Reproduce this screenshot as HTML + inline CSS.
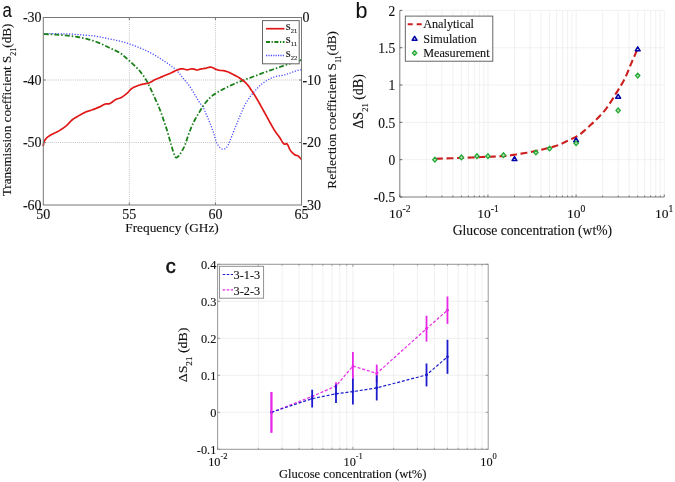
<!DOCTYPE html>
<html><head><meta charset="utf-8"><title>figure</title>
<style>html,body{margin:0;padding:0;background:#fff;overflow:hidden}svg{display:block;filter:blur(0.45px)}</style>
</head><body>
<svg width="675" height="482" viewBox="0 0 675 482">
<rect width="675" height="482" fill="#fff"/>
<line x1="129.37" y1="17.5" x2="129.37" y2="205.0" stroke="#c4c4c4" stroke-width="1" stroke-dasharray="1 1.1"/>
<line x1="215.43" y1="17.5" x2="215.43" y2="205.0" stroke="#c4c4c4" stroke-width="1" stroke-dasharray="1 1.1"/>
<line x1="43.3" y1="80" x2="301.5" y2="80" stroke="#c4c4c4" stroke-width="1" stroke-dasharray="1 1.1"/>
<line x1="43.3" y1="142.5" x2="301.5" y2="142.5" stroke="#c4c4c4" stroke-width="1" stroke-dasharray="1 1.1"/>
<polyline points="43.8,33.6 45.47,33.62 47.81,33.65 50.56,33.68 53.49,33.72 56.35,33.76 58.9,33.8 61.14,33.84 63.29,33.87 65.36,33.9 67.39,33.94 69.43,34.01 71.5,34.1 73.6,34.22 75.7,34.37 77.8,34.54 79.9,34.73 82,34.91 84.1,35.1 86.2,35.27 88.3,35.43 90.4,35.6 92.5,35.79 94.6,36.02 96.7,36.3 98.82,36.66 100.97,37.07 103.12,37.53 105.24,38 107.31,38.47 109.3,38.9 111.21,39.3 113.06,39.67 114.86,40.04 116.61,40.41 118.32,40.8 120,41.2 121.63,41.62 123.2,42.04 124.73,42.48 126.24,42.93 127.76,43.4 129.3,43.9 130.86,44.43 132.41,44.97 133.96,45.54 135.53,46.14 137.1,46.76 138.7,47.4 140.33,48.08 142.01,48.78 143.69,49.51 145.37,50.26 147.01,51.03 148.6,51.8 150.12,52.58 151.59,53.37 153.02,54.17 154.44,55 155.86,55.84 157.3,56.7 158.78,57.61 160.29,58.56 161.81,59.53 163.29,60.5 164.69,61.43 166,62.3 167.19,63.1 168.3,63.86 169.33,64.58 170.31,65.29 171.27,65.99 172.2,66.7 173.09,67.39 173.91,68.02 174.7,68.66 175.49,69.33 176.31,70.1 177.2,71 178.17,72.06 179.19,73.26 180.24,74.55 181.3,75.88 182.36,77.21 183.4,78.5 184.41,79.73 185.42,80.94 186.43,82.14 187.42,83.37 188.41,84.65 189.4,86 190.4,87.46 191.4,89.01 192.41,90.62 193.39,92.22 194.32,93.76 195.2,95.2 196.01,96.54 196.77,97.83 197.48,99.06 198.17,100.23 198.84,101.34 199.5,102.4 200.15,103.34 200.78,104.15 201.39,104.9 202,105.66 202.6,106.51 203.2,107.5 203.81,108.66 204.41,109.93 205.01,111.28 205.6,112.67 206.2,114.09 206.8,115.5 207.4,116.89 208,118.29 208.59,119.71 209.19,121.16 209.79,122.66 210.4,124.2 211.03,125.84 211.68,127.59 212.34,129.37 212.97,131.14 213.57,132.83 214.1,134.4 214.55,135.85 214.92,137.23 215.25,138.54 215.57,139.77 215.91,140.93 216.3,142 216.73,142.99 217.19,143.9 217.66,144.72 218.16,145.48 218.67,146.17 219.2,146.8 219.76,147.39 220.35,147.93 220.96,148.41 221.57,148.79 222.19,149.07 222.8,149.2 223.41,149.19 224.03,149.06 224.64,148.82 225.25,148.47 225.84,148.03 226.4,147.5 226.91,146.9 227.39,146.21 227.84,145.43 228.3,144.54 228.78,143.54 229.3,142.4 229.87,141.08 230.48,139.56 231.11,137.93 231.74,136.25 232.38,134.58 233,133 233.61,131.5 234.21,130.02 234.81,128.56 235.4,127.1 236,125.65 236.6,124.2 237.18,122.78 237.74,121.4 238.3,120.02 238.88,118.6 239.51,117.11 240.2,115.5 240.94,113.74 241.71,111.87 242.52,109.91 243.4,107.92 244.35,105.94 245.4,104 246.55,102.09 247.79,100.16 249.11,98.24 250.5,96.35 251.93,94.49 253.4,92.7 254.92,90.93 256.49,89.18 258.12,87.46 259.79,85.82 261.48,84.29 263.2,82.9 264.95,81.65 266.75,80.51 268.58,79.48 270.43,78.55 272.27,77.72 274.1,77 275.92,76.44 277.73,76.06 279.55,75.78 281.37,75.52 283.18,75.22 285,74.8 286.88,74.22 288.83,73.52 290.78,72.78 292.66,72.06 294.39,71.41 295.9,70.9 297.2,70.54 298.37,70.29 299.38,70.11 300.24,69.98 300.95,69.89 301.5,69.8" fill="none" stroke="#4a4aff" stroke-width="1.3" stroke-dasharray="1.2 1.6"/>
<polyline points="43.8,34.1 45.47,34.17 47.81,34.26 50.56,34.37 53.49,34.5 56.35,34.64 58.9,34.8 61.14,34.97 63.29,35.16 65.36,35.36 67.39,35.59 69.43,35.83 71.5,36.1 73.6,36.38 75.7,36.68 77.8,36.99 79.9,37.34 82,37.74 84.1,38.2 86.2,38.71 88.3,39.27 90.4,39.88 92.5,40.53 94.6,41.24 96.7,42 98.82,42.84 100.97,43.77 103.12,44.76 105.24,45.76 107.31,46.75 109.3,47.7 111.25,48.61 113.17,49.51 115.05,50.39 116.84,51.27 118.5,52.14 120,53 121.29,53.84 122.4,54.67 123.38,55.48 124.3,56.3 125.22,57.14 126.2,58 127.23,58.89 128.26,59.8 129.29,60.73 130.33,61.67 131.36,62.62 132.4,63.6 133.45,64.58 134.5,65.55 135.55,66.54 136.6,67.57 137.65,68.65 138.7,69.8 139.76,71.04 140.84,72.37 141.92,73.74 142.98,75.14 143.98,76.54 144.9,77.9 145.71,79.17 146.42,80.38 147.08,81.58 147.73,82.83 148.42,84.22 149.2,85.8 150.09,87.63 151.05,89.66 152.06,91.82 153.07,94.03 154.06,96.22 155,98.3 155.89,100.29 156.76,102.23 157.61,104.16 158.43,106.07 159.23,107.98 160,109.9 160.74,111.85 161.46,113.83 162.16,115.8 162.83,117.75 163.47,119.66 164.1,121.5 164.7,123.24 165.26,124.89 165.8,126.5 166.33,128.11 166.86,129.76 167.4,131.5 167.96,133.38 168.53,135.37 169.1,137.41 169.66,139.42 170.2,141.34 170.7,143.1 171.16,144.7 171.59,146.2 172,147.61 172.4,148.93 172.79,150.19 173.2,151.4 173.62,152.6 174.03,153.8 174.45,154.93 174.87,155.93 175.28,156.74 175.7,157.3 176.12,157.57 176.53,157.59 176.95,157.43 177.37,157.13 177.78,156.77 178.2,156.4 178.6,156.04 178.97,155.66 179.34,155.2 179.73,154.64 180.18,153.96 180.7,153.1 181.32,152.07 182.01,150.89 182.76,149.58 183.52,148.15 184.28,146.62 185,145 185.67,143.25 186.32,141.34 186.96,139.33 187.6,137.26 188.28,135.2 189,133.2 189.77,131.22 190.57,129.21 191.41,127.21 192.26,125.24 193.13,123.33 194,121.5 194.89,119.76 195.81,118.09 196.74,116.47 197.68,114.9 198.6,113.38 199.5,111.9 200.37,110.46 201.2,109.06 202.03,107.71 202.86,106.4 203.71,105.13 204.6,103.9 205.52,102.71 206.48,101.54 207.45,100.43 208.43,99.36 209.42,98.34 210.4,97.4 211.37,96.54 212.34,95.75 213.31,95.02 214.29,94.33 215.28,93.66 216.3,93 217.34,92.35 218.39,91.74 219.46,91.16 220.55,90.58 221.66,90 222.8,89.4 223.95,88.79 225.11,88.18 226.29,87.57 227.5,86.95 228.77,86.33 230.1,85.7 231.47,85.07 232.85,84.45 234.29,83.82 235.8,83.17 237.43,82.5 239.2,81.8 241.15,81.05 243.27,80.27 245.5,79.47 247.79,78.65 250.07,77.82 252.3,77 254.51,76.16 256.75,75.3 258.99,74.43 261.2,73.58 263.34,72.76 265.4,72 267.35,71.31 269.2,70.68 270.99,70.08 272.76,69.5 274.51,68.91 276.3,68.3 278.13,67.65 279.98,66.97 281.83,66.29 283.65,65.62 285.42,64.98 287.1,64.4 288.72,63.87 290.3,63.37 291.82,62.91 293.28,62.48 294.64,62.08 295.9,61.7 297.08,61.34 298.21,61 299.25,60.68 300.17,60.4 300.93,60.17 301.5,60" fill="none" stroke="#1a801a" stroke-width="1.8" stroke-dasharray="5 2 1.5 2"/>
<polyline points="43.2,146.1 43.31,145.53 43.45,144.72 43.62,143.77 43.83,142.78 44.09,141.82 44.4,141 44.77,140.31 45.19,139.66 45.66,139.06 46.17,138.49 46.72,137.94 47.3,137.4 47.9,136.88 48.52,136.41 49.17,135.95 49.89,135.49 50.69,135.02 51.6,134.5 52.64,133.96 53.81,133.41 55.06,132.84 56.36,132.24 57.65,131.59 58.9,130.9 60.13,130.14 61.39,129.34 62.64,128.49 63.88,127.61 65.07,126.71 66.2,125.8 67.25,124.85 68.24,123.84 69.19,122.81 70.12,121.8 71.05,120.85 72,120 72.95,119.27 73.88,118.62 74.81,118.04 75.76,117.48 76.75,116.91 77.8,116.3 78.93,115.63 80.13,114.93 81.36,114.22 82.62,113.53 83.87,112.88 85.1,112.3 86.3,111.8 87.5,111.37 88.7,110.98 89.9,110.61 91.1,110.22 92.3,109.8 93.53,109.34 94.78,108.86 96.04,108.38 97.27,107.88 98.47,107.39 99.6,106.9 100.67,106.39 101.7,105.84 102.68,105.29 103.63,104.78 104.53,104.34 105.4,104 106.2,103.83 106.92,103.81 107.6,103.87 108.28,103.91 109,103.85 109.8,103.6 110.69,103.12 111.63,102.47 112.61,101.71 113.61,100.93 114.62,100.2 115.6,99.6 116.57,99.15 117.53,98.81 118.5,98.52 119.47,98.22 120.43,97.87 121.4,97.4 122.38,96.81 123.38,96.13 124.38,95.4 125.36,94.63 126.3,93.86 127.2,93.1 128.01,92.33 128.74,91.54 129.43,90.73 130.14,89.94 130.91,89.19 131.8,88.5 132.82,87.87 133.95,87.27 135.14,86.71 136.36,86.19 137.56,85.72 138.7,85.3 139.81,84.95 140.92,84.66 142.02,84.41 143.08,84.2 144.08,84 145,83.8 145.81,83.63 146.5,83.5 147.14,83.39 147.77,83.26 148.44,83.08 149.2,82.8 150.03,82.42 150.89,81.96 151.79,81.44 152.74,80.89 153.74,80.33 154.8,79.8 155.94,79.28 157.16,78.74 158.43,78.21 159.73,77.67 161.03,77.13 162.3,76.6 163.55,76.08 164.8,75.57 166.06,75.07 167.31,74.56 168.56,74.04 169.8,73.5 171.07,72.91 172.36,72.28 173.66,71.63 174.91,71.01 176.11,70.45 177.2,70 178.17,69.64 179.04,69.35 179.85,69.12 180.62,68.95 181.39,68.85 182.2,68.8 183.03,68.86 183.87,69.04 184.71,69.29 185.54,69.53 186.37,69.72 187.2,69.8 188.02,69.72 188.84,69.53 189.65,69.29 190.46,69.04 191.28,68.86 192.1,68.8 192.95,68.9 193.84,69.11 194.72,69.39 195.59,69.67 196.39,69.89 197.1,70 197.68,69.98 198.13,69.89 198.52,69.73 198.93,69.55 199.4,69.36 200,69.2 200.75,69.06 201.61,68.91 202.54,68.77 203.5,68.62 204.47,68.46 205.4,68.3 206.3,68.09 207.19,67.81 208.08,67.53 208.99,67.3 209.92,67.17 210.9,67.2 211.9,67.43 212.91,67.83 213.95,68.34 215.03,68.88 216.18,69.39 217.4,69.8 218.73,70.09 220.17,70.31 221.67,70.49 223.19,70.69 224.68,70.95 226.1,71.3 227.46,71.77 228.79,72.31 230.09,72.91 231.36,73.54 232.6,74.18 233.8,74.8 234.95,75.38 236.06,75.95 237.13,76.52 238.18,77.13 239.23,77.78 240.3,78.5 241.39,79.29 242.5,80.12 243.61,81.01 244.71,81.94 245.77,82.94 246.8,84 247.78,85.13 248.71,86.34 249.62,87.6 250.51,88.91 251.4,90.25 252.3,91.6 253.2,92.97 254.1,94.38 255,95.81 255.9,97.28 256.8,98.77 257.7,100.3 258.61,101.87 259.53,103.49 260.45,105.13 261.37,106.79 262.29,108.45 263.2,110.1 264.1,111.73 265,113.37 265.9,115 266.8,116.63 267.7,118.27 268.6,119.9 269.51,121.56 270.43,123.25 271.35,124.94 272.27,126.6 273.19,128.19 274.1,129.7 275.02,131.11 275.94,132.43 276.87,133.7 277.78,134.92 278.66,136.12 279.5,137.3 280.31,138.53 281.09,139.82 281.84,141.08 282.56,142.23 283.25,143.19 283.9,143.9 284.5,144.21 285.05,144.15 285.57,143.91 286.07,143.66 286.57,143.6 287.1,143.9 287.63,144.63 288.15,145.66 288.68,146.88 289.21,148.15 289.79,149.36 290.4,150.4 291.08,151.29 291.83,152.14 292.61,152.94 293.38,153.66 294.12,154.28 294.8,154.8 295.4,155.15 295.94,155.32 296.46,155.4 296.96,155.47 297.46,155.61 298,155.9 298.61,156.4 299.27,157.05 299.95,157.77 300.58,158.47 301.12,159.08 301.5,159.5" fill="none" stroke="#e01818" stroke-width="1.7" stroke-linejoin="round"/>
<rect x="43.3" y="17.5" width="258.2" height="187.5" fill="none" stroke="#777" stroke-width="1"/>
<line x1="129.37" y1="205.0" x2="129.37" y2="202.5" stroke="#777"/>
<line x1="129.37" y1="17.5" x2="129.37" y2="20.0" stroke="#777"/>
<line x1="215.43" y1="205.0" x2="215.43" y2="202.5" stroke="#777"/>
<line x1="215.43" y1="17.5" x2="215.43" y2="20.0" stroke="#777"/>
<line x1="43.3" y1="80" x2="45.8" y2="80" stroke="#777"/>
<line x1="301.5" y1="80" x2="299.0" y2="80" stroke="#777"/>
<line x1="43.3" y1="142.5" x2="45.8" y2="142.5" stroke="#777"/>
<line x1="301.5" y1="142.5" x2="299.0" y2="142.5" stroke="#777"/>
<text transform="translate(41.6,22.3)" font-family="Liberation Serif, serif" font-size="14" text-anchor="end" fill="#111" stroke="#111" stroke-width="0.12">-30</text>
<text transform="translate(41.6,84.8)" font-family="Liberation Serif, serif" font-size="14" text-anchor="end" fill="#111" stroke="#111" stroke-width="0.12">-40</text>
<text transform="translate(41.6,147.3)" font-family="Liberation Serif, serif" font-size="14" text-anchor="end" fill="#111" stroke="#111" stroke-width="0.12">-50</text>
<text transform="translate(41.6,209.8)" font-family="Liberation Serif, serif" font-size="14" text-anchor="end" fill="#111" stroke="#111" stroke-width="0.12">-60</text>
<text transform="translate(302.4,22.3)" font-family="Liberation Serif, serif" font-size="14" fill="#111" stroke="#111" stroke-width="0.12">0</text>
<text transform="translate(302.4,84.8)" font-family="Liberation Serif, serif" font-size="14" fill="#111" stroke="#111" stroke-width="0.12">-10</text>
<text transform="translate(302.4,147.3)" font-family="Liberation Serif, serif" font-size="14" fill="#111" stroke="#111" stroke-width="0.12">-20</text>
<text transform="translate(302.4,209.8)" font-family="Liberation Serif, serif" font-size="14" fill="#111" stroke="#111" stroke-width="0.12">-30</text>
<text transform="translate(43.3,219.3)" font-family="Liberation Serif, serif" font-size="14" text-anchor="middle" fill="#111" stroke="#111" stroke-width="0.12">50</text>
<text transform="translate(129.37,219.3)" font-family="Liberation Serif, serif" font-size="14" text-anchor="middle" fill="#111" stroke="#111" stroke-width="0.12">55</text>
<text transform="translate(215.43,219.3)" font-family="Liberation Serif, serif" font-size="14" text-anchor="middle" fill="#111" stroke="#111" stroke-width="0.12">60</text>
<text transform="translate(301.5,219.3)" font-family="Liberation Serif, serif" font-size="14" text-anchor="middle" fill="#111" stroke="#111" stroke-width="0.12">65</text>
<text transform="translate(172,232.4)" font-family="Liberation Serif, serif" font-size="13.3" text-anchor="middle" fill="#111" stroke="#111" stroke-width="0.12">Frequency (GHz)</text>
<text transform="translate(11.3,109.9) rotate(-90)" font-family="Liberation Serif, serif" font-size="13.2" text-anchor="middle" fill="#111" stroke="#111" stroke-width="0.12">Transmission coefficient S<tspan font-size="8" dy="4.5">21</tspan><tspan dy="-4.5">(dB)</tspan></text>
<text transform="translate(336.3,109.9) rotate(-90)" font-family="Liberation Serif, serif" font-size="13.25" text-anchor="middle" fill="#111" stroke="#111" stroke-width="0.12">Reflection coefficient S<tspan font-size="8" dy="4.5">11</tspan><tspan dy="-4.5">(dB)</tspan></text>
<rect x="262.5" y="20.6" width="36.7" height="43.2" fill="#fff" stroke="#666" stroke-width="1"/>
<line x1="266" y1="28.7" x2="284.5" y2="28.7" stroke="#e01818" stroke-width="1.7"/>
<line x1="266" y1="42" x2="284.5" y2="42" stroke="#1a801a" stroke-width="1.8" stroke-dasharray="4 1.6 1.2 1.6"/>
<line x1="266" y1="55.5" x2="284.5" y2="55.5" stroke="#4a4aff" stroke-width="1.3" stroke-dasharray="1.2 1.2"/>
<text transform="translate(285.8,29.8)" font-family="Liberation Serif, serif" font-size="12.5" fill="#111" stroke="#111" stroke-width="0.12">s<tspan font-size="6.5" dy="3">21</tspan></text>
<text transform="translate(285.8,43.1)" font-family="Liberation Serif, serif" font-size="12.5" fill="#111" stroke="#111" stroke-width="0.12">s<tspan font-size="6.5" dy="3">11</tspan></text>
<text transform="translate(285.8,56.6)" font-family="Liberation Serif, serif" font-size="12.5" fill="#111" stroke="#111" stroke-width="0.12">s<tspan font-size="6.5" dy="3">22</tspan></text>
<text transform="translate(2.5,17.2) scale(0.86,1)" font-family="Liberation Sans, sans-serif" font-size="19.5" fill="#111" stroke="#111" stroke-width="0.1">a</text>
<line x1="399.8" y1="10.4" x2="399.8" y2="197" stroke="#ededed" stroke-width="0.8"/>
<line x1="426.34" y1="10.4" x2="426.34" y2="197" stroke="#ededed" stroke-width="0.8"/>
<line x1="441.86" y1="10.4" x2="441.86" y2="197" stroke="#ededed" stroke-width="0.8"/>
<line x1="452.87" y1="10.4" x2="452.87" y2="197" stroke="#ededed" stroke-width="0.8"/>
<line x1="461.41" y1="10.4" x2="461.41" y2="197" stroke="#ededed" stroke-width="0.8"/>
<line x1="468.39" y1="10.4" x2="468.39" y2="197" stroke="#ededed" stroke-width="0.8"/>
<line x1="474.3" y1="10.4" x2="474.3" y2="197" stroke="#ededed" stroke-width="0.8"/>
<line x1="479.41" y1="10.4" x2="479.41" y2="197" stroke="#ededed" stroke-width="0.8"/>
<line x1="483.92" y1="10.4" x2="483.92" y2="197" stroke="#ededed" stroke-width="0.8"/>
<line x1="487.95" y1="10.4" x2="487.95" y2="197" stroke="#ededed" stroke-width="0.8"/>
<line x1="514.49" y1="10.4" x2="514.49" y2="197" stroke="#ededed" stroke-width="0.8"/>
<line x1="530.01" y1="10.4" x2="530.01" y2="197" stroke="#ededed" stroke-width="0.8"/>
<line x1="541.02" y1="10.4" x2="541.02" y2="197" stroke="#ededed" stroke-width="0.8"/>
<line x1="549.56" y1="10.4" x2="549.56" y2="197" stroke="#ededed" stroke-width="0.8"/>
<line x1="556.54" y1="10.4" x2="556.54" y2="197" stroke="#ededed" stroke-width="0.8"/>
<line x1="562.45" y1="10.4" x2="562.45" y2="197" stroke="#ededed" stroke-width="0.8"/>
<line x1="567.56" y1="10.4" x2="567.56" y2="197" stroke="#ededed" stroke-width="0.8"/>
<line x1="572.07" y1="10.4" x2="572.07" y2="197" stroke="#ededed" stroke-width="0.8"/>
<line x1="576.1" y1="10.4" x2="576.1" y2="197" stroke="#ededed" stroke-width="0.8"/>
<line x1="602.64" y1="10.4" x2="602.64" y2="197" stroke="#ededed" stroke-width="0.8"/>
<line x1="618.16" y1="10.4" x2="618.16" y2="197" stroke="#ededed" stroke-width="0.8"/>
<line x1="629.17" y1="10.4" x2="629.17" y2="197" stroke="#ededed" stroke-width="0.8"/>
<line x1="637.71" y1="10.4" x2="637.71" y2="197" stroke="#ededed" stroke-width="0.8"/>
<line x1="644.69" y1="10.4" x2="644.69" y2="197" stroke="#ededed" stroke-width="0.8"/>
<line x1="650.6" y1="10.4" x2="650.6" y2="197" stroke="#ededed" stroke-width="0.8"/>
<line x1="655.71" y1="10.4" x2="655.71" y2="197" stroke="#ededed" stroke-width="0.8"/>
<line x1="660.22" y1="10.4" x2="660.22" y2="197" stroke="#ededed" stroke-width="0.8"/>
<line x1="664.25" y1="10.4" x2="664.25" y2="197" stroke="#ededed" stroke-width="0.8"/>
<line x1="399.8" y1="10.4" x2="664.25" y2="10.4" stroke="#ededed" stroke-width="0.8"/>
<line x1="399.8" y1="47.72" x2="664.25" y2="47.72" stroke="#ededed" stroke-width="0.8"/>
<line x1="399.8" y1="85.04" x2="664.25" y2="85.04" stroke="#ededed" stroke-width="0.8"/>
<line x1="399.8" y1="122.36" x2="664.25" y2="122.36" stroke="#ededed" stroke-width="0.8"/>
<line x1="399.8" y1="159.68" x2="664.25" y2="159.68" stroke="#ededed" stroke-width="0.8"/>
<line x1="399.8" y1="197" x2="664.25" y2="197" stroke="#ededed" stroke-width="0.8"/>
<line x1="399.8" y1="10.4" x2="399.8" y2="197" stroke="#666" stroke-width="0.8"/>
<line x1="399.8" y1="197" x2="664.25" y2="197" stroke="#666" stroke-width="0.8"/>
<line x1="399.8" y1="10.4" x2="402.3" y2="10.4" stroke="#444" stroke-width="0.8"/>
<line x1="399.8" y1="47.72" x2="402.3" y2="47.72" stroke="#444" stroke-width="0.8"/>
<line x1="399.8" y1="85.04" x2="402.3" y2="85.04" stroke="#444" stroke-width="0.8"/>
<line x1="399.8" y1="122.36" x2="402.3" y2="122.36" stroke="#444" stroke-width="0.8"/>
<line x1="399.8" y1="159.68" x2="402.3" y2="159.68" stroke="#444" stroke-width="0.8"/>
<line x1="399.8" y1="197" x2="402.3" y2="197" stroke="#444" stroke-width="0.8"/>
<line x1="399.8" y1="197" x2="399.8" y2="194.5" stroke="#555" stroke-width="0.8"/>
<line x1="426.34" y1="197" x2="426.34" y2="195.5" stroke="#555" stroke-width="0.8"/>
<line x1="441.86" y1="197" x2="441.86" y2="195.5" stroke="#555" stroke-width="0.8"/>
<line x1="452.87" y1="197" x2="452.87" y2="195.5" stroke="#555" stroke-width="0.8"/>
<line x1="461.41" y1="197" x2="461.41" y2="195.5" stroke="#555" stroke-width="0.8"/>
<line x1="468.39" y1="197" x2="468.39" y2="195.5" stroke="#555" stroke-width="0.8"/>
<line x1="474.3" y1="197" x2="474.3" y2="195.5" stroke="#555" stroke-width="0.8"/>
<line x1="479.41" y1="197" x2="479.41" y2="195.5" stroke="#555" stroke-width="0.8"/>
<line x1="483.92" y1="197" x2="483.92" y2="195.5" stroke="#555" stroke-width="0.8"/>
<line x1="487.95" y1="197" x2="487.95" y2="194.5" stroke="#555" stroke-width="0.8"/>
<line x1="514.49" y1="197" x2="514.49" y2="195.5" stroke="#555" stroke-width="0.8"/>
<line x1="530.01" y1="197" x2="530.01" y2="195.5" stroke="#555" stroke-width="0.8"/>
<line x1="541.02" y1="197" x2="541.02" y2="195.5" stroke="#555" stroke-width="0.8"/>
<line x1="549.56" y1="197" x2="549.56" y2="195.5" stroke="#555" stroke-width="0.8"/>
<line x1="556.54" y1="197" x2="556.54" y2="195.5" stroke="#555" stroke-width="0.8"/>
<line x1="562.45" y1="197" x2="562.45" y2="195.5" stroke="#555" stroke-width="0.8"/>
<line x1="567.56" y1="197" x2="567.56" y2="195.5" stroke="#555" stroke-width="0.8"/>
<line x1="572.07" y1="197" x2="572.07" y2="195.5" stroke="#555" stroke-width="0.8"/>
<line x1="576.1" y1="197" x2="576.1" y2="194.5" stroke="#555" stroke-width="0.8"/>
<line x1="602.64" y1="197" x2="602.64" y2="195.5" stroke="#555" stroke-width="0.8"/>
<line x1="618.16" y1="197" x2="618.16" y2="195.5" stroke="#555" stroke-width="0.8"/>
<line x1="629.17" y1="197" x2="629.17" y2="195.5" stroke="#555" stroke-width="0.8"/>
<line x1="637.71" y1="197" x2="637.71" y2="195.5" stroke="#555" stroke-width="0.8"/>
<line x1="644.69" y1="197" x2="644.69" y2="195.5" stroke="#555" stroke-width="0.8"/>
<line x1="650.6" y1="197" x2="650.6" y2="195.5" stroke="#555" stroke-width="0.8"/>
<line x1="655.71" y1="197" x2="655.71" y2="195.5" stroke="#555" stroke-width="0.8"/>
<line x1="660.22" y1="197" x2="660.22" y2="195.5" stroke="#555" stroke-width="0.8"/>
<line x1="664.25" y1="197" x2="664.25" y2="194.5" stroke="#555" stroke-width="0.8"/>
<polyline points="434.9,158.8 436.94,158.73 439.66,158.64 442.9,158.54 446.49,158.42 450.3,158.29 454.15,158.16 457.91,158.03 461.4,157.9 464.77,157.77 468.24,157.63 471.74,157.49 475.22,157.34 478.63,157.2 481.91,157.06 485.02,156.92 487.9,156.8 490.57,156.69 493.11,156.59 495.5,156.49 497.76,156.4 499.86,156.31 501.82,156.21 503.64,156.11 505.3,156 506.71,155.88 507.83,155.77 508.75,155.66 509.55,155.54 510.32,155.41 511.14,155.26 512.11,155.09 513.3,154.9 514.72,154.68 516.27,154.44 517.93,154.18 519.67,153.9 521.45,153.61 523.23,153.31 524.99,153.01 526.7,152.7 528.37,152.39 530.03,152.07 531.69,151.75 533.36,151.42 535.02,151.08 536.68,150.73 538.34,150.37 540,150 541.71,149.61 543.48,149.19 545.28,148.76 547.06,148.32 548.8,147.89 550.44,147.47 551.95,147.07 553.3,146.7 554.44,146.38 555.38,146.1 556.18,145.86 556.9,145.62 557.59,145.37 558.3,145.1 559.08,144.78 560,144.4 561.06,143.94 562.2,143.42 563.41,142.85 564.65,142.26 565.89,141.65 567.1,141.06 568.24,140.51 569.3,140 570.27,139.54 571.19,139.12 572.06,138.73 572.9,138.34 573.7,137.97 574.48,137.59 575.25,137.21 576,136.8 576.72,136.4 577.37,136.02 578,135.65 578.61,135.26 579.22,134.85 579.86,134.4 580.55,133.89 581.3,133.3 582.12,132.63 582.97,131.9 583.87,131.12 584.79,130.29 585.74,129.42 586.72,128.53 587.7,127.62 588.7,126.7 589.71,125.77 590.75,124.83 591.82,123.87 592.89,122.88 593.99,121.86 595.09,120.81 596.19,119.73 597.3,118.6 598.41,117.46 599.51,116.31 600.62,115.14 601.74,113.94 602.88,112.67 604.03,111.32 605.2,109.87 606.4,108.3 607.65,106.57 608.94,104.67 610.28,102.65 611.62,100.56 612.95,98.45 614.26,96.35 615.51,94.32 616.7,92.4 617.82,90.6 618.89,88.87 619.92,87.2 620.92,85.55 621.89,83.9 622.84,82.23 623.77,80.5 624.7,78.7 625.61,76.8 626.5,74.84 627.37,72.82 628.22,70.77 629.05,68.72 629.88,66.69 630.69,64.71 631.5,62.8 632.34,60.86 633.22,58.84 634.11,56.8 634.98,54.81 635.79,52.94 636.52,51.27 637.13,49.87 637.6,48.8" fill="none" stroke="#cc1f1f" stroke-width="2.1" stroke-dasharray="7 3.6" stroke-dashoffset="-1"/>
<path d="M514.49,156.62 L516.91,160.58 L512.07,160.58 Z" fill="none" stroke="#0000a8" stroke-width="1.5" stroke-linejoin="round"/>
<path d="M576.1,137.81 L578.52,141.77 L573.68,141.77 Z" fill="none" stroke="#0000a8" stroke-width="1.5" stroke-linejoin="round"/>
<path d="M618.16,94.3 L620.58,98.26 L615.74,98.26 Z" fill="none" stroke="#0000a8" stroke-width="1.5" stroke-linejoin="round"/>
<path d="M637.71,46.9 L640.13,50.86 L635.29,50.86 Z" fill="none" stroke="#0000a8" stroke-width="1.5" stroke-linejoin="round"/>
<path d="M434.88,157.27 L437.06,159.68 L434.88,162.09 L432.69,159.68 Z" fill="#b0d8b0" stroke="#22aa33" stroke-width="1.25"/>
<path d="M461.41,155.03 L463.6,157.44 L461.41,159.86 L459.23,157.44 Z" fill="#b0d8b0" stroke="#22aa33" stroke-width="1.25"/>
<path d="M476.94,153.76 L479.12,156.17 L476.94,158.59 L474.75,156.17 Z" fill="#b0d8b0" stroke="#22aa33" stroke-width="1.25"/>
<path d="M487.95,153.76 L490.14,156.17 L487.95,158.59 L485.77,156.17 Z" fill="#b0d8b0" stroke="#22aa33" stroke-width="1.25"/>
<path d="M503.47,152.79 L505.66,155.2 L503.47,157.62 L501.29,155.2 Z" fill="#b0d8b0" stroke="#22aa33" stroke-width="1.25"/>
<path d="M535.91,150.1 L538.09,152.51 L535.91,154.93 L533.72,152.51 Z" fill="#b0d8b0" stroke="#22aa33" stroke-width="1.25"/>
<path d="M549.56,146.07 L551.75,148.48 L549.56,150.9 L547.38,148.48 Z" fill="#b0d8b0" stroke="#22aa33" stroke-width="1.25"/>
<path d="M576.1,140.84 L578.28,143.26 L576.1,145.67 L573.92,143.26 Z" fill="#b0d8b0" stroke="#22aa33" stroke-width="1.25"/>
<path d="M618.16,108 L620.34,110.42 L618.16,112.83 L615.97,110.42 Z" fill="#b0d8b0" stroke="#22aa33" stroke-width="1.25"/>
<path d="M637.71,73.15 L639.9,75.56 L637.71,77.98 L635.53,75.56 Z" fill="#b0d8b0" stroke="#22aa33" stroke-width="1.25"/>
<text transform="translate(395.2,15.6) scale(1,1.06)" font-family="Liberation Serif, serif" font-size="13.5" text-anchor="end" fill="#111" stroke="#111" stroke-width="0.12">2</text>
<text transform="translate(395.2,52.92) scale(1,1.06)" font-family="Liberation Serif, serif" font-size="13.5" text-anchor="end" fill="#111" stroke="#111" stroke-width="0.12">1.5</text>
<text transform="translate(395.2,90.24) scale(1,1.06)" font-family="Liberation Serif, serif" font-size="13.5" text-anchor="end" fill="#111" stroke="#111" stroke-width="0.12">1</text>
<text transform="translate(395.2,127.56) scale(1,1.06)" font-family="Liberation Serif, serif" font-size="13.5" text-anchor="end" fill="#111" stroke="#111" stroke-width="0.12">0.5</text>
<text transform="translate(395.2,164.88) scale(1,1.06)" font-family="Liberation Serif, serif" font-size="13.5" text-anchor="end" fill="#111" stroke="#111" stroke-width="0.12">0</text>
<text transform="translate(395.2,202.2) scale(1,1.06)" font-family="Liberation Serif, serif" font-size="13.5" text-anchor="end" fill="#111" stroke="#111" stroke-width="0.12">-0.5</text>
<text transform="translate(399.8,218.3)" font-family="Liberation Serif, serif" font-size="13.5" text-anchor="middle" fill="#111" stroke="#111" stroke-width="0.12">10<tspan font-size="9.6" dy="-6.2">-2</tspan></text>
<text transform="translate(487.95,218.3)" font-family="Liberation Serif, serif" font-size="13.5" text-anchor="middle" fill="#111" stroke="#111" stroke-width="0.12">10<tspan font-size="9.6" dy="-6.2">-1</tspan></text>
<text transform="translate(576.1,218.3)" font-family="Liberation Serif, serif" font-size="13.5" text-anchor="middle" fill="#111" stroke="#111" stroke-width="0.12">10<tspan font-size="9.6" dy="-6.2">0</tspan></text>
<text transform="translate(664.25,218.3)" font-family="Liberation Serif, serif" font-size="13.5" text-anchor="middle" fill="#111" stroke="#111" stroke-width="0.12">10<tspan font-size="9.6" dy="-6.2">1</tspan></text>
<text transform="translate(532.4,234.7)" font-family="Liberation Serif, serif" font-size="13.6" text-anchor="middle" fill="#111" stroke="#111" stroke-width="0.12">Glucose concentration (wt%)</text>
<text transform="translate(362.8,101.4) rotate(-90)" font-family="Liberation Serif, serif" font-size="14.0" text-anchor="middle" fill="#111" stroke="#111" stroke-width="0.12">ΔS<tspan font-size="8.5" dy="5">21</tspan><tspan dy="-5"> (dB)</tspan></text>
<rect x="405.3" y="16.1" width="87.5" height="45.1" fill="#fff" stroke="#555" stroke-width="0.9"/>
<line x1="407.7" y1="24.2" x2="422" y2="24.2" stroke="#cc1f1f" stroke-width="2" stroke-dasharray="5 4"/>
<path d="M414.6,36.29 L417.02,40.25 L412.18,40.25 Z" fill="none" stroke="#0000a8" stroke-width="1.5" stroke-linejoin="round"/>
<path d="M414.6,50.59 L416.79,53 L414.6,55.41 L412.42,53 Z" fill="#b0d8b0" stroke="#22aa33" stroke-width="1.25"/>
<text transform="translate(423.2,28.3)" font-family="Liberation Serif, serif" font-size="12.2" fill="#111" stroke="#111" stroke-width="0.12">Analytical</text>
<text transform="translate(423.2,42.9)" font-family="Liberation Serif, serif" font-size="12.2" fill="#111" stroke="#111" stroke-width="0.12">Simulation</text>
<text transform="translate(423.2,56.9)" font-family="Liberation Serif, serif" font-size="12.2" fill="#111" stroke="#111" stroke-width="0.12">Measurement</text>
<text transform="translate(355.6,17.9)" font-family="Liberation Sans, sans-serif" font-size="21.5" fill="#111" stroke="#111" stroke-width="0.1">b</text>
<line x1="217.6" y1="264.3" x2="217.6" y2="449.3" stroke="#ececec" stroke-width="0.8"/>
<line x1="258.33" y1="264.3" x2="258.33" y2="449.3" stroke="#ececec" stroke-width="0.8"/>
<line x1="282.15" y1="264.3" x2="282.15" y2="449.3" stroke="#ececec" stroke-width="0.8"/>
<line x1="299.06" y1="264.3" x2="299.06" y2="449.3" stroke="#ececec" stroke-width="0.8"/>
<line x1="312.17" y1="264.3" x2="312.17" y2="449.3" stroke="#ececec" stroke-width="0.8"/>
<line x1="322.88" y1="264.3" x2="322.88" y2="449.3" stroke="#ececec" stroke-width="0.8"/>
<line x1="331.94" y1="264.3" x2="331.94" y2="449.3" stroke="#ececec" stroke-width="0.8"/>
<line x1="339.79" y1="264.3" x2="339.79" y2="449.3" stroke="#ececec" stroke-width="0.8"/>
<line x1="346.71" y1="264.3" x2="346.71" y2="449.3" stroke="#ececec" stroke-width="0.8"/>
<line x1="352.9" y1="264.3" x2="352.9" y2="449.3" stroke="#ececec" stroke-width="0.8"/>
<line x1="393.63" y1="264.3" x2="393.63" y2="449.3" stroke="#ececec" stroke-width="0.8"/>
<line x1="417.45" y1="264.3" x2="417.45" y2="449.3" stroke="#ececec" stroke-width="0.8"/>
<line x1="434.36" y1="264.3" x2="434.36" y2="449.3" stroke="#ececec" stroke-width="0.8"/>
<line x1="447.47" y1="264.3" x2="447.47" y2="449.3" stroke="#ececec" stroke-width="0.8"/>
<line x1="458.18" y1="264.3" x2="458.18" y2="449.3" stroke="#ececec" stroke-width="0.8"/>
<line x1="467.24" y1="264.3" x2="467.24" y2="449.3" stroke="#ececec" stroke-width="0.8"/>
<line x1="475.09" y1="264.3" x2="475.09" y2="449.3" stroke="#ececec" stroke-width="0.8"/>
<line x1="482.01" y1="264.3" x2="482.01" y2="449.3" stroke="#ececec" stroke-width="0.8"/>
<line x1="217.6" y1="264.3" x2="488.2" y2="264.3" stroke="#ececec" stroke-width="0.8"/>
<line x1="217.6" y1="301.3" x2="488.2" y2="301.3" stroke="#ececec" stroke-width="0.8"/>
<line x1="217.6" y1="338.3" x2="488.2" y2="338.3" stroke="#ececec" stroke-width="0.8"/>
<line x1="217.6" y1="375.3" x2="488.2" y2="375.3" stroke="#ececec" stroke-width="0.8"/>
<line x1="217.6" y1="412.3" x2="488.2" y2="412.3" stroke="#ececec" stroke-width="0.8"/>
<line x1="217.6" y1="449.3" x2="488.2" y2="449.3" stroke="#ececec" stroke-width="0.8"/>
<rect x="217.6" y="264.3" width="270.6" height="185" fill="none" stroke="#999" stroke-width="1"/>
<line x1="217.6" y1="264.3" x2="220.1" y2="264.3" stroke="#888" stroke-width="0.8"/>
<line x1="488.2" y1="264.3" x2="485.7" y2="264.3" stroke="#888" stroke-width="0.8"/>
<line x1="217.6" y1="301.3" x2="220.1" y2="301.3" stroke="#888" stroke-width="0.8"/>
<line x1="488.2" y1="301.3" x2="485.7" y2="301.3" stroke="#888" stroke-width="0.8"/>
<line x1="217.6" y1="338.3" x2="220.1" y2="338.3" stroke="#888" stroke-width="0.8"/>
<line x1="488.2" y1="338.3" x2="485.7" y2="338.3" stroke="#888" stroke-width="0.8"/>
<line x1="217.6" y1="375.3" x2="220.1" y2="375.3" stroke="#888" stroke-width="0.8"/>
<line x1="488.2" y1="375.3" x2="485.7" y2="375.3" stroke="#888" stroke-width="0.8"/>
<line x1="217.6" y1="412.3" x2="220.1" y2="412.3" stroke="#888" stroke-width="0.8"/>
<line x1="488.2" y1="412.3" x2="485.7" y2="412.3" stroke="#888" stroke-width="0.8"/>
<line x1="217.6" y1="449.3" x2="220.1" y2="449.3" stroke="#888" stroke-width="0.8"/>
<line x1="488.2" y1="449.3" x2="485.7" y2="449.3" stroke="#888" stroke-width="0.8"/>
<line x1="217.6" y1="449.3" x2="217.6" y2="446.8" stroke="#888" stroke-width="0.8"/>
<line x1="217.6" y1="264.3" x2="217.6" y2="266.8" stroke="#888" stroke-width="0.8"/>
<line x1="258.33" y1="449.3" x2="258.33" y2="447.8" stroke="#888" stroke-width="0.8"/>
<line x1="258.33" y1="264.3" x2="258.33" y2="265.8" stroke="#888" stroke-width="0.8"/>
<line x1="282.15" y1="449.3" x2="282.15" y2="447.8" stroke="#888" stroke-width="0.8"/>
<line x1="282.15" y1="264.3" x2="282.15" y2="265.8" stroke="#888" stroke-width="0.8"/>
<line x1="299.06" y1="449.3" x2="299.06" y2="447.8" stroke="#888" stroke-width="0.8"/>
<line x1="299.06" y1="264.3" x2="299.06" y2="265.8" stroke="#888" stroke-width="0.8"/>
<line x1="312.17" y1="449.3" x2="312.17" y2="447.8" stroke="#888" stroke-width="0.8"/>
<line x1="312.17" y1="264.3" x2="312.17" y2="265.8" stroke="#888" stroke-width="0.8"/>
<line x1="322.88" y1="449.3" x2="322.88" y2="447.8" stroke="#888" stroke-width="0.8"/>
<line x1="322.88" y1="264.3" x2="322.88" y2="265.8" stroke="#888" stroke-width="0.8"/>
<line x1="331.94" y1="449.3" x2="331.94" y2="447.8" stroke="#888" stroke-width="0.8"/>
<line x1="331.94" y1="264.3" x2="331.94" y2="265.8" stroke="#888" stroke-width="0.8"/>
<line x1="339.79" y1="449.3" x2="339.79" y2="447.8" stroke="#888" stroke-width="0.8"/>
<line x1="339.79" y1="264.3" x2="339.79" y2="265.8" stroke="#888" stroke-width="0.8"/>
<line x1="346.71" y1="449.3" x2="346.71" y2="447.8" stroke="#888" stroke-width="0.8"/>
<line x1="346.71" y1="264.3" x2="346.71" y2="265.8" stroke="#888" stroke-width="0.8"/>
<line x1="352.9" y1="449.3" x2="352.9" y2="446.8" stroke="#888" stroke-width="0.8"/>
<line x1="352.9" y1="264.3" x2="352.9" y2="266.8" stroke="#888" stroke-width="0.8"/>
<line x1="393.63" y1="449.3" x2="393.63" y2="447.8" stroke="#888" stroke-width="0.8"/>
<line x1="393.63" y1="264.3" x2="393.63" y2="265.8" stroke="#888" stroke-width="0.8"/>
<line x1="417.45" y1="449.3" x2="417.45" y2="447.8" stroke="#888" stroke-width="0.8"/>
<line x1="417.45" y1="264.3" x2="417.45" y2="265.8" stroke="#888" stroke-width="0.8"/>
<line x1="434.36" y1="449.3" x2="434.36" y2="447.8" stroke="#888" stroke-width="0.8"/>
<line x1="434.36" y1="264.3" x2="434.36" y2="265.8" stroke="#888" stroke-width="0.8"/>
<line x1="447.47" y1="449.3" x2="447.47" y2="447.8" stroke="#888" stroke-width="0.8"/>
<line x1="447.47" y1="264.3" x2="447.47" y2="265.8" stroke="#888" stroke-width="0.8"/>
<line x1="458.18" y1="449.3" x2="458.18" y2="447.8" stroke="#888" stroke-width="0.8"/>
<line x1="458.18" y1="264.3" x2="458.18" y2="265.8" stroke="#888" stroke-width="0.8"/>
<line x1="467.24" y1="449.3" x2="467.24" y2="447.8" stroke="#888" stroke-width="0.8"/>
<line x1="467.24" y1="264.3" x2="467.24" y2="265.8" stroke="#888" stroke-width="0.8"/>
<line x1="475.09" y1="449.3" x2="475.09" y2="447.8" stroke="#888" stroke-width="0.8"/>
<line x1="475.09" y1="264.3" x2="475.09" y2="265.8" stroke="#888" stroke-width="0.8"/>
<line x1="482.01" y1="449.3" x2="482.01" y2="447.8" stroke="#888" stroke-width="0.8"/>
<line x1="482.01" y1="264.3" x2="482.01" y2="265.8" stroke="#888" stroke-width="0.8"/>
<polyline points="271.44,412.3 312.17,396.39 336,386.03 352.9,366.05 376.73,373.45 426.51,328.68 447.47,310.18" fill="none" stroke="#e629e6" stroke-width="1.2" stroke-dasharray="3 1.8"/>
<polyline points="271.44,412.3 312.17,398.61 336,393.8 352.9,391.58 376.73,387.88 426.51,374.93 447.47,356.8" fill="none" stroke="#1c1ccc" stroke-width="1.2" stroke-dasharray="3 1.8"/>
<line x1="271.44" y1="391.95" x2="271.44" y2="432.65" stroke="#e629e6" stroke-width="1.8"/>
<circle cx="271.44" cy="412.3" r="1.4" fill="#e629e6"/>
<circle cx="312.17" cy="396.39" r="1.4" fill="#e629e6"/>
<line x1="336" y1="382.33" x2="336" y2="389.73" stroke="#e629e6" stroke-width="1.8"/>
<circle cx="336" cy="386.03" r="1.4" fill="#e629e6"/>
<line x1="352.9" y1="351.99" x2="352.9" y2="380.11" stroke="#e629e6" stroke-width="1.8"/>
<circle cx="352.9" cy="366.05" r="1.4" fill="#e629e6"/>
<line x1="376.73" y1="364.57" x2="376.73" y2="382.33" stroke="#e629e6" stroke-width="1.8"/>
<circle cx="376.73" cy="373.45" r="1.4" fill="#e629e6"/>
<line x1="426.51" y1="315.73" x2="426.51" y2="341.63" stroke="#e629e6" stroke-width="1.8"/>
<circle cx="426.51" cy="328.68" r="1.4" fill="#e629e6"/>
<line x1="447.47" y1="296.49" x2="447.47" y2="323.87" stroke="#e629e6" stroke-width="1.8"/>
<circle cx="447.47" cy="310.18" r="1.4" fill="#e629e6"/>
<circle cx="271.44" cy="412.3" r="1.4" fill="#1c1ccc"/>
<line x1="312.17" y1="389.73" x2="312.17" y2="407.49" stroke="#1c1ccc" stroke-width="1.8"/>
<circle cx="312.17" cy="398.61" r="1.4" fill="#1c1ccc"/>
<line x1="336" y1="384.55" x2="336" y2="403.05" stroke="#1c1ccc" stroke-width="1.8"/>
<circle cx="336" cy="393.8" r="1.4" fill="#1c1ccc"/>
<line x1="352.9" y1="378.63" x2="352.9" y2="404.53" stroke="#1c1ccc" stroke-width="1.8"/>
<circle cx="352.9" cy="391.58" r="1.4" fill="#1c1ccc"/>
<line x1="376.73" y1="375.3" x2="376.73" y2="400.46" stroke="#1c1ccc" stroke-width="1.8"/>
<circle cx="376.73" cy="387.88" r="1.4" fill="#1c1ccc"/>
<line x1="426.51" y1="363.46" x2="426.51" y2="386.4" stroke="#1c1ccc" stroke-width="1.8"/>
<circle cx="426.51" cy="374.93" r="1.4" fill="#1c1ccc"/>
<line x1="447.47" y1="339.78" x2="447.47" y2="373.82" stroke="#1c1ccc" stroke-width="1.8"/>
<circle cx="447.47" cy="356.8" r="1.4" fill="#1c1ccc"/>
<line x1="271.44" y1="391.95" x2="271.44" y2="432.65" stroke="#e629e6" stroke-width="1.8"/>
<text transform="translate(216.3,268.6)" font-family="Liberation Serif, serif" font-size="12.3" text-anchor="end" fill="#111" stroke="#111" stroke-width="0.12">0.4</text>
<text transform="translate(216.3,305.6)" font-family="Liberation Serif, serif" font-size="12.3" text-anchor="end" fill="#111" stroke="#111" stroke-width="0.12">0.3</text>
<text transform="translate(216.3,342.6)" font-family="Liberation Serif, serif" font-size="12.3" text-anchor="end" fill="#111" stroke="#111" stroke-width="0.12">0.2</text>
<text transform="translate(216.3,379.6)" font-family="Liberation Serif, serif" font-size="12.3" text-anchor="end" fill="#111" stroke="#111" stroke-width="0.12">0.1</text>
<text transform="translate(216.3,416.6)" font-family="Liberation Serif, serif" font-size="12.3" text-anchor="end" fill="#111" stroke="#111" stroke-width="0.12">0</text>
<text transform="translate(216.3,453.6)" font-family="Liberation Serif, serif" font-size="12.3" text-anchor="end" fill="#111" stroke="#111" stroke-width="0.12">-0.1</text>
<text transform="translate(217.9,465.5)" font-family="Liberation Serif, serif" font-size="12.3" text-anchor="middle" fill="#111" stroke="#111" stroke-width="0.12">10<tspan font-size="8.5" dy="-6.2">-2</tspan></text>
<text transform="translate(353.2,465.5)" font-family="Liberation Serif, serif" font-size="12.3" text-anchor="middle" fill="#111" stroke="#111" stroke-width="0.12">10<tspan font-size="8.5" dy="-6.2">-1</tspan></text>
<text transform="translate(488.5,465.5)" font-family="Liberation Serif, serif" font-size="12.3" text-anchor="middle" fill="#111" stroke="#111" stroke-width="0.12">10<tspan font-size="8.5" dy="-6.2">0</tspan></text>
<text transform="translate(352.7,477.8)" font-family="Liberation Serif, serif" font-size="12.6" text-anchor="middle" fill="#111" stroke="#111" stroke-width="0.12">Glucose concentration (wt%)</text>
<text transform="translate(186.6,355) rotate(-90) scale(1.08,1)" font-family="Liberation Serif, serif" font-size="12.8" text-anchor="middle" fill="#111" stroke="#111" stroke-width="0.12">ΔS<tspan font-size="8.5" dy="5">21</tspan><tspan dy="-5"> (dB)</tspan></text>
<rect x="219.5" y="266.3" width="44.1" height="31.9" fill="#fff" stroke="#888" stroke-width="0.9"/>
<line x1="222.7" y1="274.5" x2="233" y2="274.5" stroke="#1c1ccc" stroke-width="1.2" stroke-dasharray="2.5 1.5"/>
<line x1="222.7" y1="289.9" x2="233" y2="289.9" stroke="#e629e6" stroke-width="1.2" stroke-dasharray="2.5 1.5"/>
<text transform="translate(233.6,278.8)" font-family="Liberation Serif, serif" font-size="12.3" fill="#111" stroke="#111" stroke-width="0.12">3-1-3</text>
<text transform="translate(233.6,294.5)" font-family="Liberation Serif, serif" font-size="12.3" fill="#111" stroke="#111" stroke-width="0.12">3-2-3</text>
<text transform="translate(165.8,273.3)" font-family="Liberation Sans, sans-serif" font-size="20" fill="#111" stroke="#111" stroke-width="0.55">c</text>
</svg>
</body></html>
